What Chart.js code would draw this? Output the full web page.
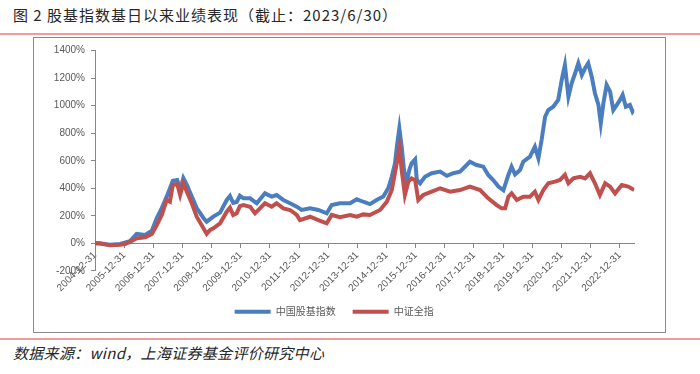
<!DOCTYPE html>
<html><head><meta charset="utf-8">
<script src="https://cdn.jsdelivr.net/npm/chart.js@4"></script>
<style>
body{margin:0;background:#fff;width:700px;height:374px;overflow:hidden;position:relative;}
#title{position:absolute;left:13px;top:4px;font:15px/22px "Noto Sans CJK SC";color:#262626;white-space:nowrap;letter-spacing:1px;}
.rule{position:absolute;left:0;width:700px;height:2px;background:#f29b9b;}
#box{position:absolute;left:33px;top:37px;width:631px;height:294px;border:1px solid #8a8a8a;}
#c{position:absolute;left:34px;top:38px;}
#src{position:absolute;left:13px;top:342px;font:italic 15px/22px "Noto Sans CJK SC";color:#262626;white-space:nowrap;letter-spacing:0.3px;}
</style></head>
<body>
<div id="title">图 2 股基指数基日以来业绩表现（截止：2023/6/30）</div>
<div class="rule" style="top:33px"></div>
<div id="box"></div>
<canvas id="c" width="631" height="300"></canvas>
<div class="rule" style="top:338px"></div>
<div id="src">数据来源：wind，上海证券基金评价研究中心</div>
<script>
const seriesNames = ['中国股基指数', '中证全指'];
const tickYears = [2005,2006,2007,2008,2009,2010,2011,2012,2013,2014,2015,2016,2017,2018,2019,2020,2021,2022,2023];
const tickLabels = ['2004-12-31','2005-12-31','2006-12-31','2007-12-31','2008-12-31','2009-12-31','2010-12-31','2011-12-31','2012-12-31','2013-12-31','2014-12-31','2015-12-31','2016-12-31','2017-12-31','2018-12-31','2019-12-31','2020-12-31','2021-12-31','2022-12-31'];
const yTicks = [-200,0,200,400,600,800,1000,1200,1400];

// 中国股基指数 (time in decimal years, value in %)
const fundYears = [2005.00,2005.17,2005.51,2005.86,2006.20,2006.43,2006.72,2006.95,2007.12,2007.29,2007.46,2007.67,2007.82,2007.92,2008.03,2008.15,2008.32,2008.49,2008.72,2008.83,2009.06,2009.29,2009.52,2009.63,2009.74,2009.86,2009.97,2010.09,2010.32,2010.55,2010.83,2011.06,2011.23,2011.46,2011.69,2011.92,2012.09,2012.38,2012.66,2012.95,2013.12,2013.40,2013.75,2013.98,2014.20,2014.43,2014.66,2014.89,2015.06,2015.18,2015.29,2015.37,2015.44,2015.52,2015.60,2015.69,2015.78,2015.86,2015.98,2016.04,2016.15,2016.32,2016.55,2016.84,2017.07,2017.29,2017.52,2017.75,2017.86,2018.09,2018.32,2018.49,2018.66,2018.84,2019.01,2019.18,2019.29,2019.41,2019.58,2019.69,2019.92,2020.09,2020.21,2020.32,2020.44,2020.55,2020.72,2020.89,2021.01,2021.12,2021.24,2021.35,2021.47,2021.58,2021.70,2021.81,2021.92,2022.04,2022.15,2022.27,2022.35,2022.44,2022.55,2022.67,2022.78,2022.90,2023.01,2023.10,2023.21,2023.35,2023.44,2023.50];
const fundValues = [0,0,-10,-5,15,68,60,92,184,256,339,455,460,388,474,424,339,256,184,157,194,223,315,344,293,300,345,327,327,291,363,339,351,315,291,266,242,254,242,218,278,291,291,320,302,285,315,340,400,484,581,727,836,702,533,436,533,581,610,460,436,484,509,521,490,509,521,569,593,569,557,497,460,412,385,497,557,500,533,593,630,702,618,751,920,969,993,1042,1187,1296,1066,1163,1236,1309,1224,1272,1309,1211,1091,1006,872,1018,1151,1102,969,1006,1042,1078,993,1006,957,975];

// 中证全指
const allYears = [2005.00,2005.17,2005.51,2005.86,2006.03,2006.20,2006.43,2006.72,2006.95,2007.12,2007.29,2007.46,2007.57,2007.67,2007.82,2007.92,2008.03,2008.15,2008.32,2008.49,2008.72,2008.83,2008.95,2009.06,2009.29,2009.52,2009.63,2009.74,2009.86,2009.97,2010.09,2010.32,2010.49,2010.83,2011.06,2011.23,2011.46,2011.69,2011.92,2012.03,2012.38,2012.66,2012.95,2013.12,2013.40,2013.75,2013.98,2014.20,2014.43,2014.78,2015.01,2015.18,2015.33,2015.44,2015.52,2015.63,2015.75,2015.86,2015.98,2016.09,2016.26,2016.55,2016.84,2017.18,2017.52,2017.86,2018.21,2018.49,2018.78,2018.95,2019.07,2019.18,2019.29,2019.47,2019.69,2019.92,2020.09,2020.21,2020.38,2020.55,2020.78,2020.95,2021.12,2021.24,2021.41,2021.64,2021.81,2021.98,2022.15,2022.32,2022.50,2022.67,2022.84,2023.07,2023.29,2023.50];
const allValues = [0,-2,-15,-10,-5,10,36,44,68,133,206,315,302,424,431,351,436,375,291,193,109,68,97,109,145,230,259,206,218,270,278,266,218,291,266,291,254,242,206,169,193,169,145,206,190,206,193,210,206,242,302,387,557,695,533,351,448,472,460,315,351,375,400,375,387,412,387,327,278,254,254,339,363,315,339,339,375,315,387,436,448,460,497,436,472,484,472,509,436,351,436,412,363,424,412,387];

const tickFont = {family: 'Liberation Sans', size: 10};
const axisColor = '#868686';

new Chart(document.getElementById('c'), {
  type: 'line',
  data: {
    datasets: [
      {label: seriesNames[0], data: fundYears.map((x, i) => ({x, y: fundValues[i]})), borderColor: '#4a7ebf', backgroundColor: '#4a7ebf', borderWidth: 4, pointRadius: 0, tension: 0, order: 1},
      {label: seriesNames[1], data: allYears.map((x, i) => ({x, y: allValues[i]})), borderColor: '#c0504d', backgroundColor: '#c0504d', borderWidth: 4, pointRadius: 0, tension: 0, order: 0}
    ]
  },
  options: {
    responsive: false,
    animation: false,
    layout: {padding: {left: 0, right: 30.7, top: 12.7, bottom: 11.3}},
    plugins: {
      legend: {
        position: 'bottom',
        title: {display: true, text: '', font: {size: 1}, padding: {top: 17.7, bottom: 0}},
        labels: {usePointStyle: true, pointStyle: 'line', pointStyleWidth: 36, padding: 17, color: '#595959', font: {family: 'Noto Sans CJK SC', size: 10}, sort: (a, b) => a.datasetIndex - b.datasetIndex}
      },
      tooltip: {enabled: false}
    },
    scales: {
      x: {
        type: 'linear', position: {y: 0}, min: 2005, max: 2023.5,
        afterBuildTicks: s => { s.ticks = tickYears.map(v => ({value: v})); },
        ticks: {autoSkip: false, minRotation: 45, maxRotation: 45, padding: 2, color: '#595959', font: tickFont, callback: v => tickLabels[tickYears.indexOf(v)]},
        grid: {drawOnChartArea: false, drawTicks: true, tickLength: 4, color: axisColor},
        border: {display: true, color: axisColor}
      },
      y: {
        min: -200, max: 1400,
        afterBuildTicks: s => { s.ticks = yTicks.map(v => ({value: v})); },
        afterFit: s => { s.width = 61; },
        ticks: {padding: 6, color: '#595959', font: tickFont, callback: v => v + '%'},
        grid: {drawOnChartArea: false, drawTicks: true, tickLength: 4, color: axisColor},
        border: {display: true, color: axisColor}
      }
    }
  }
});
</script>
</body></html>
